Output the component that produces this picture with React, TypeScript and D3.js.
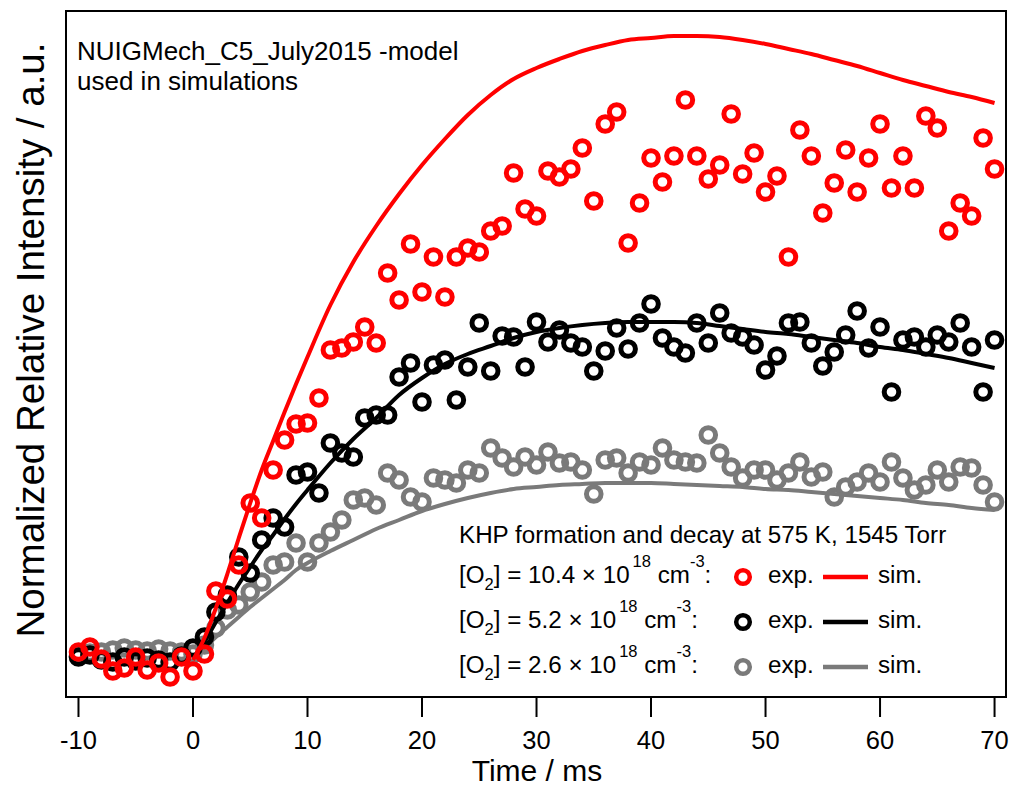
import React from 'react';
import * as d3 from 'd3';

// time axis of the measured points (ms)
const expTime = [
  -10, -9, -8, -7, -6, -5, -4, -3, -2, -1, 0, 1, 2, 3, 4, 5, 6, 7, 8, 9, 10,
  11, 12, 13, 14, 15, 16, 17, 18, 19, 20, 21, 22, 23, 24, 25, 26, 27, 28, 29, 30,
  31, 32, 33, 34, 35, 36, 37, 38, 39, 40, 41, 42, 43, 44, 45, 46, 47, 48, 49, 50,
  51, 52, 53, 54, 55, 56, 57, 58, 59, 60, 61, 62, 63, 64, 65, 66, 67, 68, 69, 70,
];

// measured intensities (a.u.)
const expHigh = [
  3, 8, -4, -16, -13, -2, -15, -8, -22, -2, -16, 1, 64, 56, 90, 152, 137, 185, 215, 231, 232,
  257, 305, 307, 313, 328, 312, 382, 355, 411, 363, 398, 358, 398, 407, 403, 424, 429, 482, 446, 439,
  484, 478, 486, 507, 454, 531, 543, 412, 452, 497, 473, 499, 555, 499, 476, 490, 541, 481, 502, 463,
  479, 398, 525, 499, 442, 472, 505, 463, 497, 531, 467, 499, 467, 539, 527, 424, 452, 439, 517, 486,
];
const expMid = [
  -2, 0, -5, -7, -2, -6, -3, -5, -7, -1, 7, 18, 43, 60, 98, 82, 115, 137, 128, 180, 183,
  162, 212, 202, 198, 237, 240, 240, 278, 292, 253, 290, 295, 255, 288, 332, 284, 319, 318, 288, 333,
  313, 325, 312, 308, 284, 304, 327, 306, 332, 351, 317, 308, 302, 332, 312, 342, 322, 318, 310, 285,
  299, 332, 333, 312, 289, 303, 320, 344, 307, 328, 263, 315, 318, 308, 320, 313, 332, 308, 263, 315,
];
const expLow = [
  -1, 2, 3, 5, 7, 5, 4, 6, 4, 3, 1, 10, 27, 45, 50, 63, 73, 90, 93, 112, 93,
  112, 123, 135, 155, 157, 150, 182, 175, 158, 153, 177, 175, 172, 185, 182, 207, 197, 188, 198, 190,
  203, 192, 193, 185, 161, 195, 197, 182, 193, 190, 207, 195, 193, 192, 220, 202, 188, 177, 185, 185,
  175, 182, 193, 178, 183, 158, 168, 173, 182, 173, 193, 177, 165, 170, 185, 173, 188, 187, 170, 153,
];

// simulated traces
const simTime = [
  0, 1, 2, 3, 4, 5, 6, 7, 8, 9, 10, 12, 14, 16, 18, 20, 22, 24, 26, 28, 30,
  32, 34, 36, 38, 40, 42, 44, 46, 48, 50, 52, 54, 56, 58, 60, 62, 64, 66, 68, 70,
];
const simHigh = [
  -5, 17, 47, 81, 117, 152, 185, 214, 243, 271, 298, 350, 393, 429, 461, 490, 516, 540, 560, 576, 587,
  596, 604, 610, 615, 617, 619, 619, 618, 615, 611, 606, 601, 595, 589, 582, 575, 569, 563, 558, 552,
];
const simMid = [
  -3, 13, 33, 52, 71, 88, 105, 120, 136, 151, 165, 192, 216, 237, 260, 277, 291, 301, 309, 317, 323,
  327, 330, 332, 333, 333, 333, 332, 329, 326, 323, 321, 318, 315, 312, 308, 305, 301, 297, 292, 287,
];
const simLow = [
  -3, 7, 18, 28, 38, 48, 57, 66, 75, 85, 92, 104, 115, 126, 135, 144, 151, 157, 162, 166, 168,
  170, 171, 172, 172, 172, 171, 170, 169, 168, 166, 165, 163, 161, 159, 157, 155, 152, 150, 147, 145,
];

const xTicks = [-10, 0, 10, 20, 30, 40, 50, 60, 70];
const o2Values = ['10.4', '5.2', '2.6'];
const seriesColors = ['#ff0000', '#000000', '#7a7a7a'];

const FONT = 'Liberation Sans, Arial, Helvetica, sans-serif';

const App = () => {
  const box = { left: 66, top: 11, right: 1006, bottom: 697 };

  const x = d3.scaleLinear().domain([-11.09, 71.0]).range([box.left, box.right]);
  const y = d3.scaleLinear().domain([-42, 644]).range([box.bottom, box.top]);

  const line = d3
    .line<number>()
    .x((d, i) => x(simTime[i]))
    .y((d) => y(d))
    .curve(d3.curveMonotoneX);

  const series = [
    { exp: expLow, sim: simLow, color: seriesColors[2] },
    { exp: expMid, sim: simMid, color: seriesColors[1] },
    { exp: expHigh, sim: simHigh, color: seriesColors[0] },
  ];

  return (
    <div style={{ position: 'absolute', left: 0, top: 0 }}>
      <svg width={1011} height={786} style={{ display: 'block', background: '#fff' }} fontFamily={FONT}>
        <defs>
          <clipPath id="plotClip">
            <rect x={box.left} y={box.top} width={box.right - box.left} height={box.bottom - box.top} />
          </clipPath>
        </defs>

        <g clipPath="url(#plotClip)">
          {series.map((s, si) => (
            <g key={si}>
              {s.exp.map((v, i) => (
                <circle key={i} cx={x(expTime[i])} cy={y(v)} r={7.3}
                        fill="none" stroke={s.color} strokeWidth={5} />
              ))}
              <path d={line(s.sim) || ''} fill="none" stroke={s.color} strokeWidth={4} />
            </g>
          ))}
        </g>

        {/* frame */}
        <rect x={box.left} y={box.top} width={box.right - box.left} height={box.bottom - box.top}
              fill="none" stroke="#000" strokeWidth={2} />

        {/* x axis ticks */}
        {xTicks.map((t) => (
          <g key={t}>
            <line x1={x(t)} x2={x(t)} y1={box.bottom} y2={box.bottom + 20} stroke="#000" strokeWidth={2} />
            <text x={x(t)} y={749} textAnchor="middle" fontSize={25.5}>{t}</text>
          </g>
        ))}

        <text x={537} y={781} textAnchor="middle" fontSize={30}>Time / ms</text>
        <text transform="translate(44,340) rotate(-90)" textAnchor="middle" fontSize={38.5}>
          Normalized Relative Intensity / a.u.
        </text>

        {/* model note */}
        <text x={77} y={60} fontSize={26}>NUIGMech_C5_July2015 -model</text>
        <text x={77} y={90} fontSize={26}>used in simulations</text>

        {/* legend */}
        <text x={459} y={543} fontSize={24.2}>KHP formation and decay at 575 K, 1545 Torr</text>
        {o2Values.map((v, i) => {
          const base = 583 + i * 45;
          const cy = base - 6;
          return (
            <g key={v}>
              <text x={459} y={base} fontSize={24.2}>
                [O<tspan dy={7} fontSize={16.5}>2</tspan>
                <tspan dy={-7}>] = {v} × 10</tspan>
                <tspan dx={3} dy={-16} fontSize={16.5}>18</tspan>
                <tspan dy={16}> cm</tspan>
                <tspan dy={-16} fontSize={16.5}>-3</tspan>
                <tspan dy={16}>:</tspan>
              </text>
              <circle cx={743} cy={cy} r={6.8} fill="none" stroke={seriesColors[i]} strokeWidth={4.5} />
              <text x={768} y={base} fontSize={24.2}>exp.</text>
              <line x1={823} x2={868} y1={cy} y2={cy} stroke={seriesColors[i]} strokeWidth={4.5} />
              <text x={878} y={base} fontSize={24.2}>sim.</text>
            </g>
          );
        })}
      </svg>
    </div>
  );
};

export default App;
